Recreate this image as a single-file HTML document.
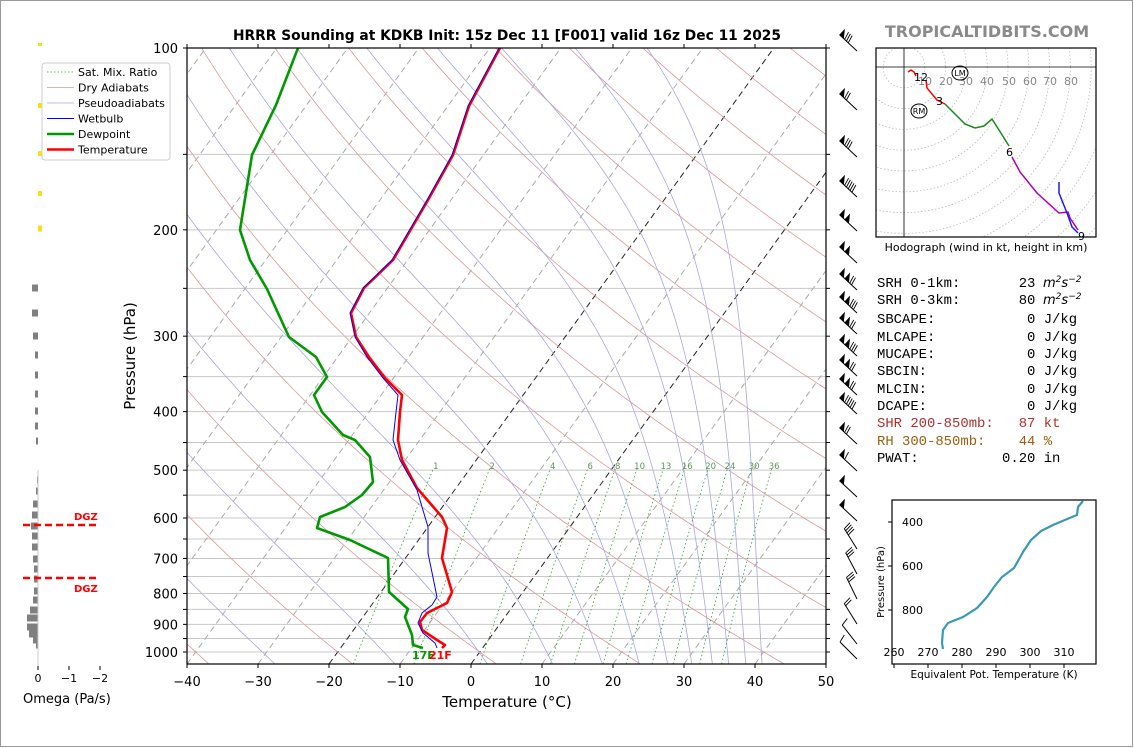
<!DOCTYPE html>
<html><head><meta charset="utf-8">
<style>
html,body{margin:0;padding:0;background:#fff;}
body{width:1134px;height:748px;overflow:hidden;position:relative;font-family:"Liberation Sans","DejaVu Sans",sans-serif;}
svg{position:absolute;left:0;top:0;}
</style></head>
<body>
<svg id="s" width="1134" height="748" viewBox="0 0 1134 748" xmlns="http://www.w3.org/2000/svg" font-family="'DejaVu Sans','Liberation Sans',sans-serif">
<rect x="0.5" y="0.5" width="1132" height="746" fill="#fff" stroke="#999" stroke-width="1"/>
<defs><clipPath id="cp"><rect x="187" y="48" width="639" height="616"/></clipPath>
<clipPath id="hc"><rect x="876" y="48" width="220" height="189"/></clipPath></defs>
<g id="bg" clip-path="url(#cp)"></g>
<g id="fg"></g>
</svg>
<script>
var NS="http://www.w3.org/2000/svg";
var bg=document.getElementById('bg'),fg=document.getElementById('fg');
function el(p,t,a,txt){var e=document.createElementNS(NS,t);for(var k in a)e.setAttribute(k,a[k]);if(txt!==undefined)e.textContent=txt;p.appendChild(e);return e;}
function Y(p){return 48+604*Math.log10(p/100);}
function X(T,y){return 187+(T+40)*7.1+(664-y)*0.722;}
function pts(a){return a.map(function(q){return q[0].toFixed(1)+','+q[1].toFixed(1);}).join(' ');}
for(var p=100;p<=1000;p+=50){var y=Y(p);el(bg,'line',{x1:187,x2:826,y1:y,y2:y,stroke:'#c8c8c8','stroke-width':1});}
for(var T=-150;T<=50;T+=10){var blk=(T==0||T==-20);el(bg,'line',{x1:X(T,664),y1:664,x2:X(T,48),y2:48,stroke:blk?'#222':'#aaa','stroke-width':1,'stroke-dasharray':'6,4'});}
var ps=[];for(var p=1047;p>=100;p-=5)ps.push(p);ps.push(100);
for(var th=233.15;th<=700;th+=20){var a=ps.map(function(p){var T=th*Math.pow(p/1000,0.2857)-273.15;var y=Y(p);return [X(T,y),y];});el(bg,'polyline',{points:pts(a),fill:'none',stroke:'#d99a9a','stroke-width':0.8});}
function es(Tc){return 6.112*Math.exp(17.67*Tc/(Tc+243.5));}
function the(TK,p){var e=es(TK-273.15);var r=0.622*e/Math.max(p-e,1);return TK*Math.pow(1000/p,0.2854)*Math.exp(2.5e6*r/(1004*TK));}
[-45,-27.6,-10.7,2.3,11.5,18.5,23.7,27.7,31.1,34,36.3,38.7,41].forEach(function(Tb){
 var t0=the(Tb+273.15,1047);var a=[];
 ps.forEach(function(p){var lo=120,hi=340;for(var i=0;i<40;i++){var m=(lo+hi)/2;if(the(m,p)>t0)hi=m;else lo=m;}var y=Y(p);a.push([X(lo-273.15,y),y]);});
 el(bg,'polyline',{points:pts(a),fill:'none',stroke:'#a8a8e0','stroke-width':0.8});});
[1,2,4,6,8,10,13,16,20,24,30,36].forEach(function(w){var a=[];for(var p=1047;p>=495;p-=10){var e=w*p/(622+w);var l=Math.log(e/6.112);var T=243.5*l/(17.67-l);var y=Y(p);a.push([X(T,y),y]);}
 el(bg,'polyline',{points:pts(a),fill:'none',stroke:'#3a9a3a','stroke-width':0.8,'stroke-dasharray':'1.5,2.5'});
 var e=w*500/(622+w),l=Math.log(e/6.112),T=243.5*l/(17.67-l);el(fg,'text',{x:X(T,466),y:469,'font-size':8.5,fill:'#5a9a5a','text-anchor':'middle'},''+w);});
var red=[[500,48],[469,106],[453,155],[428,200],[393,260],[364,288],[351,313],[356,337],[369,357],[385,378],[402,395],[400,412],[398,440],[402,460],[417,488],[442,517],[447,528],[442,558],[452,592],[447,603],[427,613],[420,622],[422,630],[437,640],[445,645],[442,648]];
var grn=[[298,48],[276,105],[252,155],[240,230],[250,260],[267,289],[289,337],[316,357],[327,377],[314,395],[322,412],[343,435],[355,440],[370,457],[373,482],[362,495],[345,507],[320,517],[317,528],[350,540],[388,558],[389,592],[408,609],[405,617],[412,635],[413,645],[423,648]];
var blu=[[499,48],[468,106],[452,155],[427,200],[392,260],[363,288],[350,313],[355,337],[367,357],[383,378],[398,395],[396,412],[393,440],[400,460],[417,490],[428,527],[428,553],[437,597],[432,605],[422,613],[418,623],[423,633],[435,643],[437,648]];
el(bg,'polyline',{points:pts(grn),fill:'none',stroke:'#009900','stroke-width':2.6,'stroke-linejoin':'round'});
el(bg,'polyline',{points:pts(red),fill:'none',stroke:'#ff0000','stroke-width':2.6,'stroke-linejoin':'round'});
el(bg,'polyline',{points:pts(blu),fill:'none',stroke:'#0000ff','stroke-width':1,'stroke-linejoin':'round'});
el(fg,'text',{x:412,y:659,'font-size':11,'font-weight':'bold',fill:'#009900'},'17F');
el(fg,'text',{x:429,y:659,'font-size':11,'font-weight':'bold',fill:'#ff0000'},'21F');
el(fg,'rect',{x:187,y:48,width:639,height:616,fill:'none',stroke:'#000','stroke-width':1.2});
for(var p=100;p<=1000;p+=50){var y=Y(p);el(fg,'line',{x1:183,x2:187,y1:y,y2:y,stroke:'#000'});el(fg,'line',{x1:826,x2:830,y1:y,y2:y,stroke:'#000'});
 if(p%100==0)el(fg,'text',{x:178,y:y+5,'font-size':13,'text-anchor':'end'},''+p);}
for(var T=-40;T<=50;T+=10){var x=187+(T+40)*7.1;el(fg,'line',{x1:x,x2:x,y1:664,y2:668,stroke:'#000'});el(fg,'line',{x1:x,x2:x,y1:48,y2:44,stroke:'#000'});
 el(fg,'text',{x:x,y:686,'font-size':13,'text-anchor':'middle'},(T<0?'\u2212'+(-T):''+T));}
el(fg,'text',{x:507,y:707,'font-size':15,'text-anchor':'middle'},'Temperature (\u00b0C)');
el(fg,'text',{x:135,y:356,'font-size':15,'text-anchor':'middle',transform:'rotate(-90 135 356)'},'Pressure (hPa)');
el(fg,'text',{x:507,y:40,'font-size':13.8,'font-weight':'bold','text-anchor':'middle'},'HRRR Sounding at KDKB Init: 15z Dec 11 [F001] valid 16z Dec 11 2025');
el(fg,'rect',{x:42,y:63,width:128,height:97,rx:3,fill:'#fff',stroke:'#ccc'});
[['Sat. Mix. Ratio','#3a9a3a',0.8,'1.5,2'],['Dry Adiabats','#d99a9a',0.8,''],['Pseudoadiabats','#a8a8e0',0.8,''],['Wetbulb','#0000ff',1,''],['Dewpoint','#009900',2.5,''],['Temperature','#ff0000',2.5,'']].forEach(function(l,i){var y=72+i*15.5;
 var a={x1:47,x2:74,y1:y,y2:y,stroke:l[1],'stroke-width':l[2]};if(l[3])a['stroke-dasharray']=l[3];el(fg,'line',a);el(fg,'text',{x:78,y:y+4,'font-size':11},l[0]);});
[[45,2],[106,4],[154,4],[194,4],[229,5]].forEach(function(b){el(fg,'rect',{x:38,y:b[0]-b[1]/2-1,width:4,height:b[1]+1,fill:'#f5e11a'});});
[[288,32],[313,32],[336,33],[355,35],[375,35],[394,35],[411,35],[426,35],[441,36],[480,37],[491,36],[504,33],[515,32],[526,31],[536,32],[547,32],[559,33],[569,34],[579,34],[591,34],[600,33],[610,30],[618,27],[627,27],[634,29],[640,33],[645,36]].forEach(function(b){el(fg,'rect',{x:b[1],y:b[0]-3.5,width:38-b[1],height:7,fill:'#808080'});});
el(fg,'line',{x1:38,x2:38,y1:470,y2:668,stroke:'#ccc','stroke-width':1});
el(fg,'line',{x1:23,x2:98,y1:525,y2:525,stroke:'#ff0000','stroke-width':2.5,'stroke-dasharray':'7,4'});
el(fg,'line',{x1:23,x2:98,y1:578,y2:578,stroke:'#ff0000','stroke-width':2.5,'stroke-dasharray':'7,4'});
el(fg,'text',{x:74,y:520,'font-size':10,'font-weight':'bold',fill:'#ff0000'},'DGZ');
el(fg,'text',{x:74,y:592,'font-size':10,'font-weight':'bold',fill:'#ff0000'},'DGZ');
[[38,'0'],[69,'\u22121'],[100,'\u22122']].forEach(function(t){el(fg,'line',{x1:t[0],x2:t[0],y1:666,y2:670,stroke:'#000'});el(fg,'text',{x:t[0],y:682,'font-size':11,'text-anchor':'middle'},t[1]);});
el(fg,'text',{x:23,y:703,'font-size':13},'Omega (Pa/s)');
function barb(y,fl,fe,ang){var a=(ang||43)*Math.PI/180;var ux=-Math.cos(a),uy=-Math.sin(a);var bx=857,by=y+9;var L=24;var tx=bx+ux*L,ty=by+uy*L;
 el(fg,'line',{x1:bx,y1:by,x2:tx,y2:ty,stroke:'#000','stroke-width':1});var px=uy,py=-ux;var px2=-px,py2=-py;
 var d=0;for(var i=0;i<fl;i++){var x1=tx-ux*d,y1=ty-uy*d,x2=tx-ux*(d+6),y2=ty-uy*(d+6);el(fg,'polygon',{points:x1+','+y1+' '+x2+','+y2+' '+(x1+px2*8)+','+(y1+py2*8),fill:'#000'});d+=7;}
 for(var i=0;i<fe;i++){var x1=tx-ux*d,y1=ty-uy*d;el(fg,'line',{x1:x1,y1:y1,x2:x1+px2*8+ux*2,y2:y1+py2*8+uy*2,stroke:'#000','stroke-width':0.9});d+=2.5;}}
[[42,1,3],[101,1,2],[148,1,3],[188,1,5],[222,2,0],[254,2,0],[281,2,2],[304,2,3],[325,2,2],[347,2,3],[367,2,2],[386,2,2],[405,1,5],[435,1,2],[462,1,1],[488,1,0],[512,1,0],[540,0,4,58],[565,0,3,62],[590,0,3,64],[615,0,2,58],[635,0,1,52],[650,0,1,45]].forEach(function(b){barb(b[0],b[1],b[2],b[3]);});
el(fg,'text',{x:987,y:37,'font-size':16,'font-weight':'bold',fill:'#8a8a8a','text-anchor':'middle'},'TROPICALTIDBITS.COM');
var hg=el(fg,'g',{'clip-path':'url(#hc)'});
for(var n=1;n<=12;n++)el(hg,'circle',{cx:904,cy:67,r:20.8*n,fill:'none',stroke:'#bbb','stroke-width':0.8,'stroke-dasharray':'1.5,2'});
el(hg,'line',{x1:904,x2:904,y1:48,y2:237,stroke:'#000','stroke-width':0.8});
el(hg,'line',{x1:876,x2:1096,y1:67,y2:67,stroke:'#000','stroke-width':0.8});
[[925,'10'],[946,'20'],[966,'30'],[987,'40'],[1009,'50'],[1030,'60'],[1050,'70'],[1071,'80']].forEach(function(t){el(hg,'text',{x:t[0],y:85,'font-size':11,fill:'#888','text-anchor':'middle'},t[1]);});
el(hg,'polyline',{points:'908,72 911,70 914,72 916,76',fill:'none',stroke:'#f00','stroke-width':1.5});
el(hg,'polyline',{points:'926,80 927,88 937,100 945,104',fill:'none',stroke:'#f00','stroke-width':1.5});
el(hg,'polyline',{points:'945,104 965,124 975,128 984,126 992,119 999,130 1009,146',fill:'none',stroke:'#1a8a1a','stroke-width':1.5});
el(hg,'polyline',{points:'1012,157 1020,172 1037,193 1059,213 1068,212 1070,218 1078,230',fill:'none',stroke:'#b000b0','stroke-width':1.5});
el(hg,'polyline',{points:'1059,182 1059,193 1067,213 1072,227 1078,233',fill:'none',stroke:'#1a1aff','stroke-width':1.5});
el(fg,'text',{x:914,y:81,'font-size':11},'12');
el(fg,'text',{x:936,y:105,'font-size':11},'3');
el(fg,'text',{x:1006,y:156,'font-size':11},'6');
el(fg,'text',{x:1078,y:240,'font-size':11},'9');
el(fg,'ellipse',{cx:960,cy:73,rx:8,ry:7,fill:'none',stroke:'#000'});el(fg,'text',{x:960,y:76,'font-size':8,'text-anchor':'middle'},'LM');
el(fg,'ellipse',{cx:919,cy:111,rx:8,ry:7,fill:'none',stroke:'#000'});el(fg,'text',{x:919,y:114,'font-size':8,'text-anchor':'middle'},'RM');
el(fg,'rect',{x:876,y:48,width:220,height:189,fill:'none',stroke:'#000','stroke-width':1.2});
el(fg,'text',{x:986,y:251,'font-size':11,'text-anchor':'middle'},'Hodograph (wind in kt, height in km)');
el(fg,'rect',{x:892,y:500,width:204,height:164,fill:'none',stroke:'#000','stroke-width':1.2});
el(fg,'polyline',{points:'1083,501 1078,507 1077,515 1072,517 1053,525 1041,531 1031,540 1023,552 1014,568 1002,577 994,587 987,597 977,608 963,617 948,623 943,630 942,643 943,649',fill:'none',stroke:'#3a9ab5','stroke-width':2.2});
[[522,'400'],[566,'600'],[610,'800']].forEach(function(t){el(fg,'line',{x1:888,x2:892,y1:t[0],y2:t[0],stroke:'#000'});el(fg,'text',{x:902,y:t[0]+4,'font-size':11},t[1]);});
[260,270,280,290,300,310].forEach(function(v,i){var x=894+i*34;el(fg,'line',{x1:x,x2:x,y1:664,y2:668,stroke:'#000'});el(fg,'text',{x:x,y:656,'font-size':11,'text-anchor':'middle'},''+v);});
el(fg,'text',{x:884,y:582,'font-size':10,'text-anchor':'middle',transform:'rotate(-90 884 582)'},'Pressure (hPa)');
el(fg,'text',{x:994,y:678,'font-size':10.5,'text-anchor':'middle'},'Equivalent Pot. Temperature (K)');
var tb=[['SRH 0-1km:       23 ','#000','m2'],['SRH 0-3km:       80 ','#000','m2'],['SBCAPE:           0 J/kg','#000'],['MLCAPE:           0 J/kg','#000'],['MUCAPE:           0 J/kg','#000'],['SBCIN:            0 J/kg','#000'],['MLCIN:            0 J/kg','#000'],['DCAPE:            0 J/kg','#000'],['SHR 200-850mb:   87 kt','#b03030'],['RH 300-850mb:    44 %','#9a6010'],['PWAT:          0.20 in','#000']];
var ys=[287,304,323,341,358,375,393,410,427,445,462];
tb.forEach(function(t,i){var e=el(fg,'text',{x:877,y:ys[i],'font-size':13.9,fill:t[1],'font-family':"'Liberation Mono','DejaVu Sans Mono',monospace"},t[0]);e.setAttribute('style','white-space:pre');
 if(t[2]){var m=el(fg,'text',{x:1043,y:ys[i],'font-size':13,'font-style':'italic','font-family':"'DejaVu Sans',sans-serif"});el(m,'tspan',{},'m');el(m,'tspan',{dy:-5,'font-size':9},'2');el(m,'tspan',{dy:5},'s');el(m,'tspan',{dy:-5,'font-size':9},'\u22122');}});
</script>
</body></html>
